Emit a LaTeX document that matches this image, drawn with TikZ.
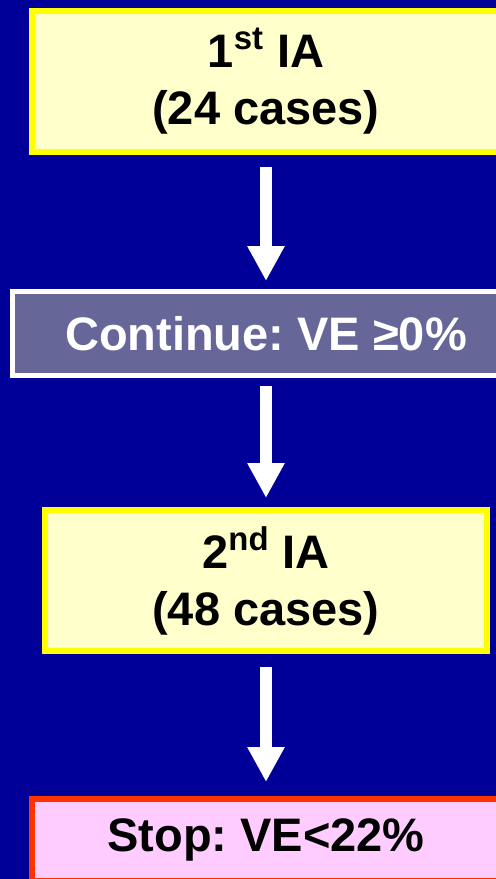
\documentclass[tikz,border=0pt]{standalone}
\usepackage{fontspec}
\setmainfont{Liberation Sans}
\usepackage{xcolor}
\usetikzlibrary{arrows.meta}

\definecolor{slidebg}{RGB}{0,0,153}
\definecolor{iafill}{RGB}{255,255,204}
\definecolor{iaedge}{RGB}{255,255,0}
\definecolor{gofill}{RGB}{102,102,153}
\definecolor{stopfill}{RGB}{255,204,255}
\definecolor{stopedge}{RGB}{255,51,0}

\frenchspacing

\begin{document}
\begin{tikzpicture}[x=0.5pt,y=-0.5pt,
    box/.style={rectangle,line width=3pt,font=\fontsize{23.5}{28.5}\selectfont\bfseries,align=center,inner sep=0pt},
    iabox/.style={box,draw=iaedge,fill=iafill,text=black,minimum width=234pt,minimum height=70.5pt},
    gobox/.style={box,draw=white,fill=gofill,text=white,line width=2.5pt,minimum width=253.5pt,minimum height=42pt},
    stopbox/.style={box,draw=stopedge,fill=stopfill,text=black,minimum width=234pt,minimum height=41pt},
    bigarrow/.style={white,line width=6pt,-{Triangle[width=17.5pt,length=17.5pt]}}]
    \useasboundingbox (0,0) rectangle (496,879);
    \clip (0,0) rectangle (496,879);
    \fill[slidebg] (0,0) rectangle (496,879);
    % boxes
    \node[iabox] (ia1) at (266,81.5) {1\textsuperscript{st} IA\\(24 cases)};
    \node[gobox] (cont) at (266,333.5) {Continue: VE ≥0\%};
    \node[iabox,minimum width=221pt] (ia2) at (266,580.5) {2\textsuperscript{nd} IA\\(48 cases)};
    \node[stopbox] (stop) at (266,840) {Stop: VE<22\%};
    % arrows
    \draw[bigarrow,shorten <=6pt,shorten >=4pt] (ia1) -- (cont);
    \draw[bigarrow,shorten <=4pt,shorten >=4.5pt] (cont) -- (ia2);
    \draw[bigarrow,shorten <=6.5pt,shorten >=7pt] (ia2) -- (stop);
\end{tikzpicture}
\end{document}
